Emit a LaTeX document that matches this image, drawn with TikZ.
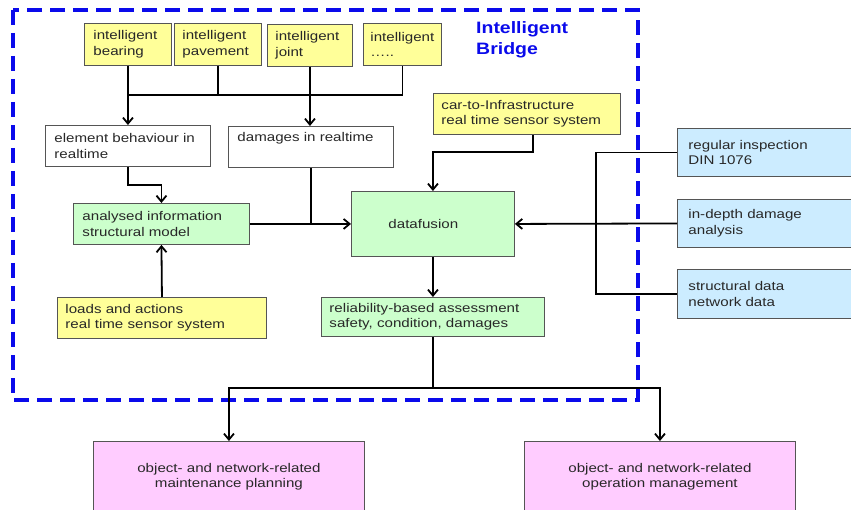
\documentclass[tikz,border=0pt]{standalone}
\usepackage{fontspec}
\setmainfont{Liberation Sans}
\newfontfamily\boxfont[FakeStretch=1.2]{Liberation Sans}
\newfontfamily\titlefont[FakeStretch=1.18]{Liberation Sans}
\usepackage{tikz}
\usetikzlibrary{arrows.meta}
\definecolor{sensorfill}{RGB}{255,255,153}
\definecolor{resultfill}{RGB}{204,255,204}
\definecolor{externfill}{RGB}{204,236,255}
\definecolor{decisionfill}{RGB}{255,204,255}
\definecolor{boxline}{RGB}{85,85,85}
\definecolor{textgray}{RGB}{40,40,40}
\definecolor{bridgeblue}{RGB}{10,10,235}

\tikzset{
  box/.style={draw=boxline, line width=0.9pt, anchor=north west, inner sep=0pt,
    align=left, text=textgray, font=\boxfont\fontsize{12.6}{15.5}\selectfont},
  sensorbox/.style={box, fill=sensorfill},
  plainbox/.style={box, fill=white},
  resultbox/.style={box, fill=resultfill},
  externbox/.style={box, fill=externfill},
  decisionbox/.style={box, fill=decisionfill, align=center},
}

\begin{document}
\begin{tikzpicture}[x=1pt, y=-1pt, >={Straight Barb[length=6pt,width=10pt]},
    link/.style={->, line width=1.8pt},
    wire/.style={line width=1.8pt}]
    \useasboundingbox (0,0) rectangle (851,510);
    \clip (0,0) rectangle (851,510);

    % Bridge frame
    \draw[bridgeblue, line width=3.5pt, dash pattern=on 15pt off 8pt] (13,10) rectangle (638,400);
    \node[anchor=north west, inner sep=0pt, align=left, text=bridgeblue,
      font=\titlefont\bfseries\fontsize{16.5}{21}\selectfont] (title) at (476,21) {Intelligent\\Bridge};

    % Intelligent components
    \node[sensorbox, minimum width=87, minimum height=42, text width=69] (bearing) at (84,23) {intelligent\\bearing};
    \node[sensorbox, minimum width=87, minimum height=42, text width=71] (pavement) at (174,23) {intelligent\\pavement};
    \node[sensorbox, minimum width=85, minimum height=42, text width=69] (joint) at (267,24) {intelligent\\joint};
    \node[sensorbox, minimum width=78, minimum height=42, text width=64] (dots) at (363,23) {intelligent\\…..};

    % Realtime information
    \node[plainbox, minimum width=165, minimum height=41, text width=147] (behaviour) at (45,125) {element behaviour in\\realtime};
    \node[plainbox, minimum width=165, minimum height=41, text width=147] (damages) at (228,126) {damages in realtime\\\strut};
    \node[resultbox, minimum width=176, minimum height=41, text width=158] (analysed) at (73,203) {analysed information\\structural model};
    \node[sensorbox, minimum width=209, minimum height=41, text width=193] (loads) at (57,297) {loads and actions\\real time sensor system};

    % Data fusion
    \node[sensorbox, minimum width=187, minimum height=41, text width=171] (car) at (433,93) {car-to-Infrastructure\\real time sensor system};
    \node[resultbox, minimum width=163, minimum height=65, text width=89] (fusion) at (351,191) {datafusion};
    \node[resultbox, minimum width=223, minimum height=39, text width=207] (reliability) at (321,297) {reliability-based assessment\\safety, condition, damages};

    % External sources
    \node[externbox, minimum width=190, minimum height=48, text width=168] (regular) at (677,128) {regular inspection\\DIN 1076};
    \node[externbox, minimum width=190, minimum height=48, text width=168] (indepth) at (677,199) {in-depth damage\\analysis};
    \node[externbox, minimum width=190, minimum height=49, text width=168] (structural) at (677,269) {structural data\\network data};

    % Decisions
    \node[decisionbox, minimum width=271, minimum height=71, text width=251] (planning) at (93,441) {object- and network-related\\maintenance planning};
    \node[decisionbox, minimum width=271, minimum height=71, text width=251] (operation) at (524,441) {object- and network-related\\operation management};

    % Connectors
    \coordinate (bus) at (0,95);
    \coordinate (ext) at (596,0);
    \draw[link] (bearing.south) -- (behaviour.north);
    \draw[wire] (bearing.south |- bus) -| (dots.south);
    \draw[wire] (pavement.south) -- (pavement.south |- bus);
    \draw[link] (joint.south) -- (joint.south |- damages.north);
    \draw[link] (behaviour.south) -- ++(0,18) -| (analysed.north);
    \draw[link] (loads.north) -- (analysed.south);
    \draw[wire] (damages.south) -- (damages.south |- fusion.west);
    \draw[link] (analysed.east) -- (fusion.west);
    \draw[link] ([xshift=6pt]car.south) -- ++(0,17) -| (fusion.north);
    \draw[wire] (regular.west) -| (ext |- structural.west) -- (structural.west);
    \draw[link] (indepth.west) -- (fusion.east);
    \draw[link] (fusion.south) -- (reliability.north);
    \draw[link] (reliability.south) -- ++(0,51) coordinate (split) -| (planning.north);
    \draw[link] (split) -| (operation.north);
\end{tikzpicture}
\end{document}
